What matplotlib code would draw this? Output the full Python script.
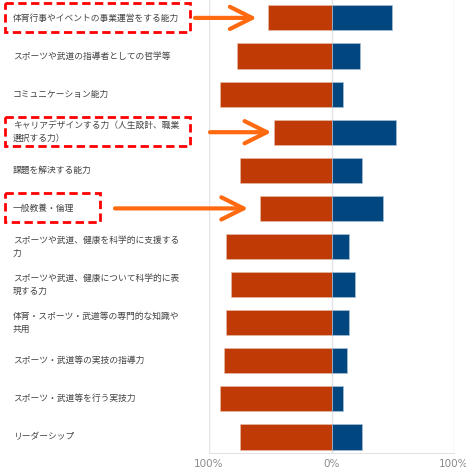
import matplotlib
matplotlib.use("Agg")
import matplotlib.pyplot as plt
import matplotlib.transforms as mtransforms
from matplotlib.patches import Rectangle

plt.rcParams['font.family'] = ['Noto Sans CJK JP', 'DejaVu Sans']

labels = [
    "体育行事やイベントの事業運営をする能力",
    "スポーツや武道の指導者としての哲学等",
    "コミュニケーション能力",
    "キャリアデザインする力（人生設計、職業\n選択する力）",
    "課題を解決する能力",
    "一般教養・倫理",
    "スポーツや武道、健康を科学的に支援する\n力",
    "スポーツや武道、健康について科学的に表\n現する力",
    "体育・スポーツ・武道等の専門的な知識や\n共用",
    "スポーツ・武道等の実技の指導力",
    "スポーツ・武道等を行う実技力",
    "リーダーシップ",
]
left_vals = [52, 77, 91, 47, 75, 58, 86, 82, 86, 88, 91, 75]
right_vals = [49, 23, 9.5, 53, 25, 42, 14, 19, 14, 12.5, 9.5, 25]
x_ticks = [-100, 0, 100]
x_tick_labels = ["100%", "0%", "100%"]
highlight_rows = [0, 3, 5]

orange = '#BF3A04'
blue = '#02467F'
arrow_color = '#FF6A10'

W, H = 466, 469
fig = plt.figure(figsize=(W / 100, H / 100), dpi=100)
ax = fig.add_axes([209 / W, 16 / H, 245 / W, 453 / H])

rows = list(range(len(labels)))
ax.barh(rows, [-v for v in left_vals], height=0.66, color=orange,
        edgecolor='#e9b9a4', linewidth=0.5, zorder=3)
ax.barh(rows, right_vals, height=0.66, color=blue,
        edgecolor='#a9bfd4', linewidth=0.5, zorder=3)

ax.set_xlim(-100, 100)
ax.set_ylim(11.42, -0.47)
ax.set_xticks(x_ticks)
ax.set_xticklabels(x_tick_labels, fontsize=7.5, color='#8a8a8a',
                   family='DejaVu Sans')
ax.tick_params(axis='x', length=0, pad=4)
ax.set_yticks([])
for x in x_ticks:
    ax.axvline(x, color='#e4e4e4', lw=1, zorder=1)
for side in ['top', 'right', 'left']:
    ax.spines[side].set_visible(False)
ax.spines['bottom'].set_color('#e4e4e4')

# labels on the left, in figure x / data y
trans = mtransforms.blended_transform_factory(fig.transFigure, ax.transData)
for r, lab in zip(rows, labels):
    ax.text(13 / W, r, lab, transform=trans, ha='left', va='center',
            fontsize=6.3, color='#444444', linespacing=1.55, clip_on=False)

# red dashed boxes around highlighted labels
box_right = {0: 190, 3: 190, 5: 100}
for r in highlight_rows:
    rect = Rectangle((5 / W, r - 0.40), (box_right[r] - 5) / W, 0.77,
                     transform=trans, fill=False, edgecolor='#FF0000',
                     linewidth=2, linestyle=(0, (3, 1.6)), clip_on=False,
                     zorder=5)
    ax.add_patch(rect)

# orange arrows pointing at the highlighted bars
arrow_start = {0: 195, 3: 210, 5: 115}
arrow_gap = {0: 9, 3: 2, 5: 10}
for r in highlight_rows:
    ax.annotate("", xy=(-left_vals[r] - arrow_gap[r], r),
                xytext=(arrow_start[r] / W, r), textcoords=trans,
                arrowprops=dict(arrowstyle='->,head_length=1.6,head_width=0.8',
                                color=arrow_color, lw=3, mutation_scale=10,
                                shrinkA=0, shrinkB=0, capstyle='round',
                                joinstyle='round'),
                annotation_clip=False, zorder=6)

fig.savefig("out.png", dpi=100)
